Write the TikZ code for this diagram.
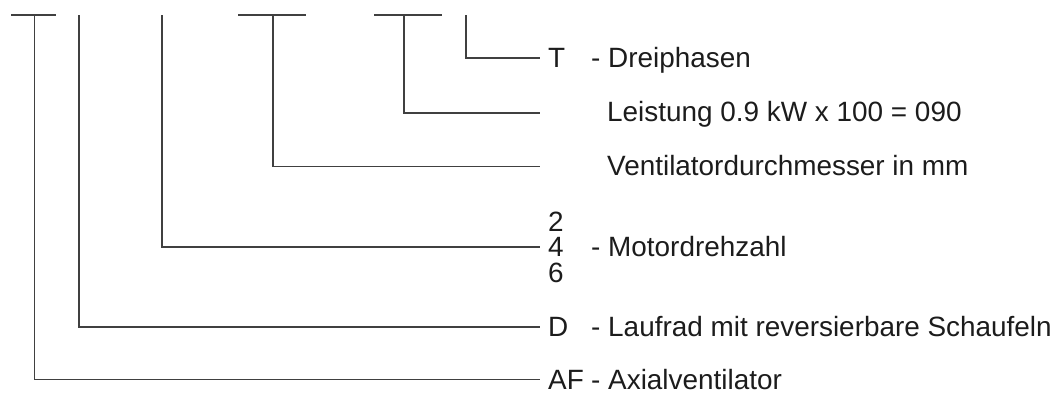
\documentclass[tikz,border=0pt]{standalone}
\usepackage{fontspec}
\setmainfont{Liberation Sans}
\usepackage{tikz}
\usetikzlibrary{calc}
\definecolor{leadgray}{HTML}{404040}
\definecolor{txtgray}{HTML}{1C1C1C}
\tikzset{
         lead/.style={draw=leadgray,line width=1.8pt},
         code/.style={anchor=base west,inner xsep=8pt,inner ysep=0pt,text=txtgray,
                      font=\fontsize{27.9pt}{30pt}\selectfont},
         descr/.style={anchor=base west,inner sep=0pt,text=txtgray,
                       font=\fontsize{27.9pt}{30pt}\selectfont}
        }

\begin{document}
\begin{tikzpicture}[x=1pt,y=-1pt]
\useasboundingbox (0,0) rectangle (1063,394);
\draw[lead] (11,15) -- (56,15); % bar AF
\draw[lead] (238,15) -- (306,15); % bar diameter
\draw[lead] (374,15) -- (442,15); % bar power
\coordinate (taf) at (34.5,15); % top AF
\coordinate (td) at (79,15); % top D
\coordinate (tpol) at (162,15); % top poles
\coordinate (tdm) at (273,15); % top diameter
\coordinate (tkw) at (404,15); % top power
\coordinate (tt) at (466,15); % top T
\node[code] (ct) at (540,67.7) {T}; % T
\node[descr] (dt) at (591,67.7) {- Dreiphasen}; % T label
\coordinate (ckw) at (540,113); % power end
\node[descr] (dkw) at (607,121.7) {Leistung 0.9 kW x 100 = 090}; % power label
\coordinate (cdm) at (540,166.5); % diameter end
\node[descr] (ddm) at (607,175) {Ventilatordurchmesser in mm}; % diameter label
\node[code] (c2) at (540,231) {2}; % 2
\node[code] (c4) at (540,256.5) {4}; % 4
\node[code] (c6) at (540,282) {6}; % 6
\node[descr] (dpol) at (591,256.5) {- Motordrehzahl}; % poles label
\node[code] (cd) at (540,336.7) {D}; % D
\node[descr] (dd) at (591,336.7) {- Laufrad mit reversierbare Schaufeln}; % D label
\node[code] (caf) at (540,389) {AF}; % AF
\node[descr] (daf) at (591,389) {- Axialventilator}; % AF label
\draw[lead] (tt) |- (ct.west); % leader T
\draw[lead] (tkw) |- (ckw); % leader power
\draw[lead] (tdm) |- (cdm); % leader diameter
\draw[lead] (tpol) |- (c4.west); % leader poles
\draw[lead] (td) |- (cd.west); % leader D
\draw[lead] (taf) |- (caf.west); % leader AF
\end{tikzpicture}
\end{document}
